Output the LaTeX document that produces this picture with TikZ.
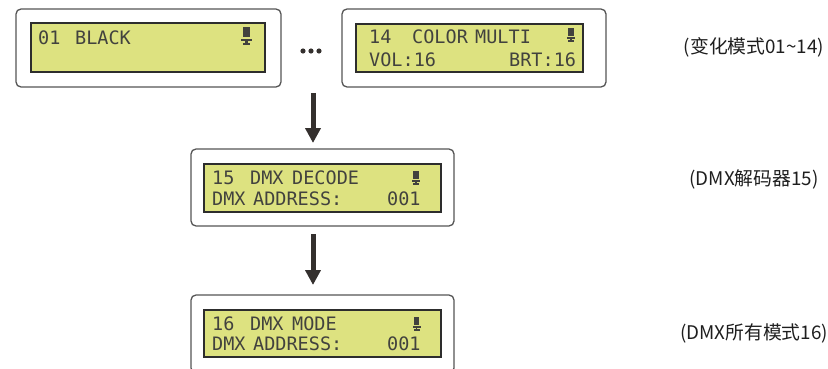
\documentclass[tikz,border=0pt]{standalone}
\usepackage{fontspec}
\usetikzlibrary{arrows.meta}
\newfontfamily\lcdfont{DejaVu Sans Mono}
\newfontfamily\cjk{Noto Sans CJK SC}
\definecolor{lcdfill}{RGB}{221,226,128}
\definecolor{lcdtext}{RGB}{66,66,62}
\definecolor{frameline}{RGB}{85,85,85}
\definecolor{lcdline}{RGB}{45,45,45}
\definecolor{arrowcol}{RGB}{52,48,46}
\definecolor{labelcol}{RGB}{30,30,30}
\tikzset{
  panel/.style={draw=frameline, line width=1.3pt, rounded corners=5pt, fill=white, inner sep=0pt},
  lcd/.style={draw=lcdline, line width=1.5pt, fill=lcdfill, inner sep=0pt},
  lcdtxt/.style={anchor=base west, inner sep=0pt, text=lcdtext, font=\lcdfont\fontsize{18.5}{20}\selectfont},
  sidelabel/.style={anchor=center, inner sep=0pt, text=labelcol, font=\cjk\fontsize{18.8}{22}\selectfont},
  flow/.style={draw=arrowcol, line width=5pt, -{Triangle[width=15pt,length=15pt]}},
  mic/.pic={
    \fill[lcdtext] (-2.6,0) rectangle (2.6,8);
    \fill[lcdtext] (-4,9) rectangle (4,10.6);
    \fill[lcdtext] (-0.8,10.6) rectangle (0.8,12.4);
    \fill[lcdtext] (-3,12.4) rectangle (3,14);
  }
}
\begin{document}
\begin{tikzpicture}[x=1pt,y=-1pt]
\useasboundingbox (0,0) rectangle (828,369);
\clip (0,0) rectangle (828,369);

% box 1
\node[panel, minimum width=265pt, minimum height=78pt] (p1) at (148.5,48) {};
\node[lcd, minimum width=234pt, minimum height=49pt] (l1) at (148,47.5) {};
\node[lcdtxt] (t1a) at (38,44.3) {01};
\node[lcdtxt] (t1b) at (75,44.3) {BLACK};
\pic[scale=1.3] at (246.5,27) {mic};

% dots
\fill[arrowcol] (303,51) circle (2.6) (311,51) circle (2.6) (319,51) circle (2.6);

% box 2
\node[panel, minimum width=264pt, minimum height=78pt] (p2) at (474,48) {};
\node[lcd, minimum width=227pt, minimum height=48pt] (l2) at (469.5,48) {};
\node[lcdtxt] (t2a) at (369,43.3) {14};
\node[lcdtxt] (t2b) at (412,43.3) {COLOR};
\node[lcdtxt] (t2c) at (475,43.3) {MULTI};
\node[lcdtxt] (t2d) at (369,66.7) {VOL:16};
\node[lcdtxt] (t2e) at (509,66.7) {BRT:16};
\pic at (571,28) {mic};

% box 3
\node[panel, minimum width=263pt, minimum height=77pt] (p3) at (322.5,187.5) {};
\node[lcd, minimum width=237pt, minimum height=48pt] (l3) at (322.5,188) {};
\node[lcdtxt] (t3a) at (212,184) {15};
\node[lcdtxt] (t3b) at (250,184) {DMX};
\node[lcdtxt] (t3c) at (292,184) {DECODE};
\node[lcdtxt] (t3d) at (212,205) {DMX};
\node[lcdtxt] (t3e) at (253,205) {ADDRESS:};
\node[lcdtxt] (t3f) at (387,205) {001};
\pic at (416,171) {mic};

% box 4
\node[panel, minimum width=263pt, minimum height=78pt] (p4) at (322.5,334) {};
\node[lcd, minimum width=237pt, minimum height=47pt] (l4) at (322.5,333.5) {};
\node[lcdtxt] (t4a) at (212,330) {16};
\node[lcdtxt] (t4b) at (250,330) {DMX};
\node[lcdtxt] (t4c) at (292,330) {MODE};
\node[lcdtxt] (t4d) at (212,350.7) {DMX};
\node[lcdtxt] (t4e) at (253,350.7) {ADDRESS:};
\node[lcdtxt] (t4f) at (387,350.7) {001};
\pic at (416.5,317) {mic};

% arrows
\coordinate (a1s) at (313,93);
\coordinate (a1e) at (313,143);
\coordinate (a2s) at (313,234);
\coordinate (a2e) at (313,285);
\draw[flow] (a1s) -- (a1e);
\draw[flow] (a2s) -- (a2e);

% labels
\node[sidelabel] (s1) at (754,47) {(变化模式01\textasciitilde14)};
\node[sidelabel] (s2) at (754,179) {(DMX解码器15)};
\node[sidelabel] (s3) at (754,333) {(DMX所有模式16)};
\end{tikzpicture}
\end{document}
